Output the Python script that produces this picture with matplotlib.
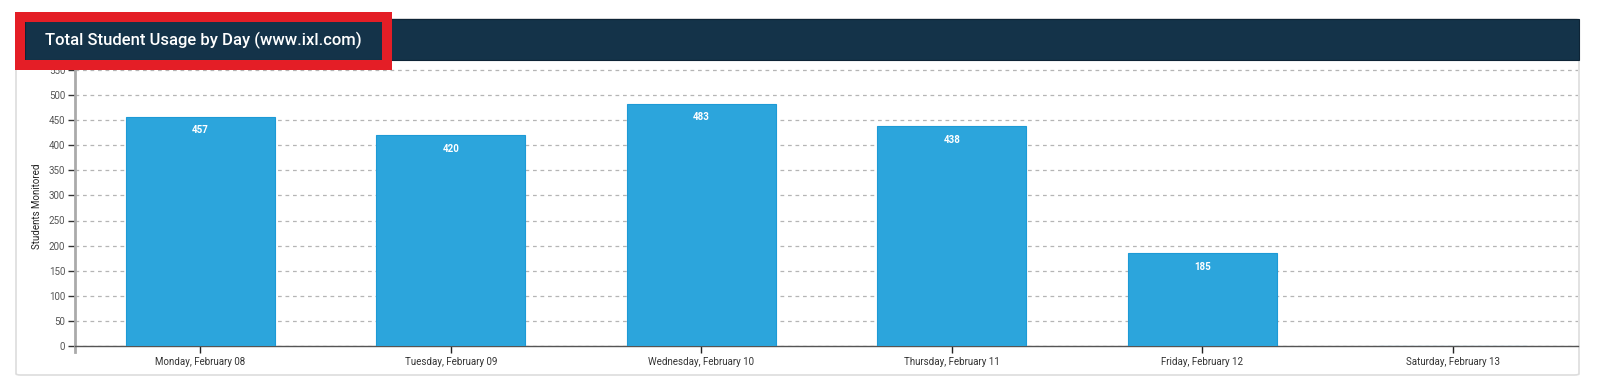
import matplotlib
matplotlib.use("Agg")
import matplotlib.pyplot as plt
from matplotlib.patches import Rectangle, FancyBboxPatch

plt.rcParams['font.family'] = ['Roboto', 'DejaVu Sans']

days = ["Monday, February 08", "Tuesday, February 09", "Wednesday, February 10",
        "Thursday, February 11", "Friday, February 12", "Saturday, February 13"]
students = [457, 420, 483, 438, 185, 0]
yticks = list(range(0, 551, 50))
title = "Total Student Usage by Day (www.ixl.com)"
ylabel = "Students Monitored"

W, H = 1600, 391
fig = plt.figure(figsize=(W / 100, H / 100), dpi=100)

def fx(x): return x / W
def fy(y): return 1 - y / H

# card
card = FancyBboxPatch((fx(16), fy(375)), fx(1579 - 16), (375 - 19) / H,
                      boxstyle="round,pad=0,rounding_size=0.003",
                      transform=fig.transFigure, facecolor="white",
                      edgecolor="#dddddd", linewidth=1.2, zorder=0)
fig.patches.append(card)

ax_left, ax_right, ax_bottom, ax_top = 75, 1578, 346, 62
ax = fig.add_axes([fx(ax_left), fy(ax_bottom), fx(ax_right - ax_left), (ax_bottom - ax_top) / H])
ax.set_zorder(1)
ymax = (ax_bottom - ax_top) / 25.1 * 50
ax.set_ylim(0, ymax)
ax.set_xlim(-0.5, len(days) - 0.5)

x = list(range(len(days)))
bars = ax.bar(x, students, width=0.595, color="#2ca5dc", edgecolor="#1d9ad6",
              linewidth=0.8, zorder=3)
for xi, v in zip(x, students):
    if v > 0:
        ax.annotate(str(v), (xi, v), xytext=(0, -10), textcoords="offset points",
                    ha="center", va="center", color="white", fontsize=7,
                    fontweight="bold", zorder=4)

ax.set_yticks(yticks)
ax.set_yticklabels([str(t) for t in yticks])
ax.yaxis.grid(True, linestyle=(0, (3, 3)), color="#b5b5b5", linewidth=0.9, zorder=0)
ax.set_axisbelow(True)
ax.set_xticks(x)
ax.set_xticklabels(days)

for s in ["top", "right"]:
    ax.spines[s].set_visible(False)
ax.spines["left"].set_color("#aaaaaa")
ax.spines["left"].set_linewidth(2)
ax.spines["left"].set_bounds(-12, ymax)
ax.spines["bottom"].set_color("#555555")
ax.spines["bottom"].set_linewidth(1)

ax.tick_params(axis="y", length=5, width=1, color="#333333", labelsize=7,
               labelcolor="#555555", pad=2)
ax.tick_params(axis="x", length=5, width=1, color="#222222", labelsize=7,
               labelcolor="#333333", pad=3)
ax.set_ylabel(ylabel, fontsize=7, color="#222222")
ax.yaxis.set_label_coords(-(75 - 42) / (ax_right - ax_left), (346 - 206) / (ax_bottom - ax_top))

# header band
hdr = Rectangle((fx(25), fy(60)), fx(1579 - 25), (60 - 19) / H, transform=fig.transFigure,
                facecolor="#143349", edgecolor="#0e2436", linewidth=0.8, zorder=5)
fig.patches.append(hdr)
# red highlight box (outer 15..392 x 12..70, 10px thick)
red = Rectangle((fx(20), fy(65)), fx(387 - 20), (65 - 17) / H, transform=fig.transFigure,
                facecolor="none", edgecolor="#e41e26", linewidth=7.2, zorder=6)
fig.patches.append(red)
fig.text(fx(45), fy(40), title, color="white", fontsize=12, fontweight="medium",
         ha="left", va="center", zorder=7)

fig.savefig("out.png", dpi=100)
